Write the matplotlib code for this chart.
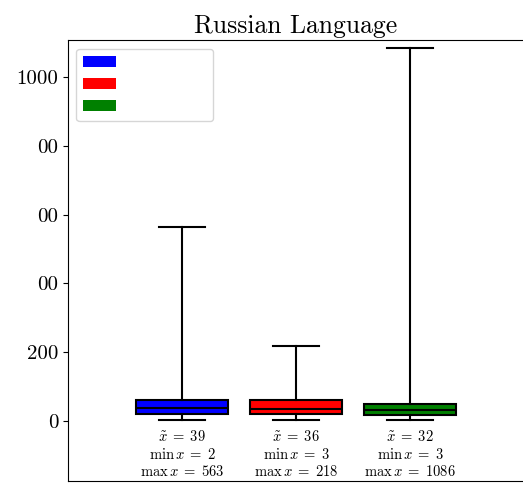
import matplotlib
matplotlib.use("Agg")
import matplotlib.pyplot as plt
from matplotlib.patches import Patch

plt.rcParams['font.family'] = 'serif'
plt.rcParams['font.serif'] = ['cmr10']
plt.rcParams['mathtext.fontset'] = 'cm'
plt.rcParams['axes.unicode_minus'] = False

# box statistics
colors = ['blue', 'red', 'green']
medians = [39, 36, 32]
q1 = [20, 19, 17]
q3 = [62, 62, 49]
mins = [2, 3, 3]
maxs = [563, 218, 1086]
ytick_vals = [0, 200, 400, 600, 800, 1000]
ytick_labels = ['0', '200', '00', '00', '00', '1000']

fig = plt.figure(figsize=(5.23, 4.84), dpi=100)
ax = fig.add_axes([0.130, 0.006, 0.872, 0.911])

stats = []
for i in range(len(medians)):
    stats.append({'med': medians[i], 'q1': q1[i], 'q3': q3[i],
                  'whislo': mins[i], 'whishi': maxs[i], 'fliers': []})

bp = ax.bxp(stats, positions=[1, 2, 3], widths=0.8, patch_artist=True,
            boxprops=dict(linewidth=1.5, edgecolor='black'),
            medianprops=dict(color='black', linewidth=1.5),
            whiskerprops=dict(color='black', linewidth=1.5),
            capprops=dict(color='black', linewidth=1.5))
for box, c in zip(bp['boxes'], colors):
    box.set_facecolor(c)

# annotations below each box
for i in range(len(medians)):
    x = i + 1
    ax.text(x, -46, r'$\tilde{x}\;=\;%d$' % medians[i], ha='center', va='center', fontsize=10.5)
    ax.text(x, -99, r'$\min\,x\;=\;%d$' % mins[i], ha='center', va='center', fontsize=10.5)
    ax.text(x, -148, r'$\max\,x\;=\;%d$' % maxs[i], ha='center', va='center', fontsize=10.5)

ax.set_xlim(0, 4)
ax.set_ylim(-175, 1108)
ax.set_xticks([])
ax.set_yticks(ytick_vals)
ax.set_yticklabels(ytick_labels, fontsize=15)
ax.set_title('Russian Language', fontsize=18.5, pad=5)

handles = [Patch(facecolor=c) for c in colors]
ax.legend(handles, [' ' * 14] * 3, loc='upper left', fontsize=12, labelspacing=0.4)

fig.savefig('out.png', dpi=100)
